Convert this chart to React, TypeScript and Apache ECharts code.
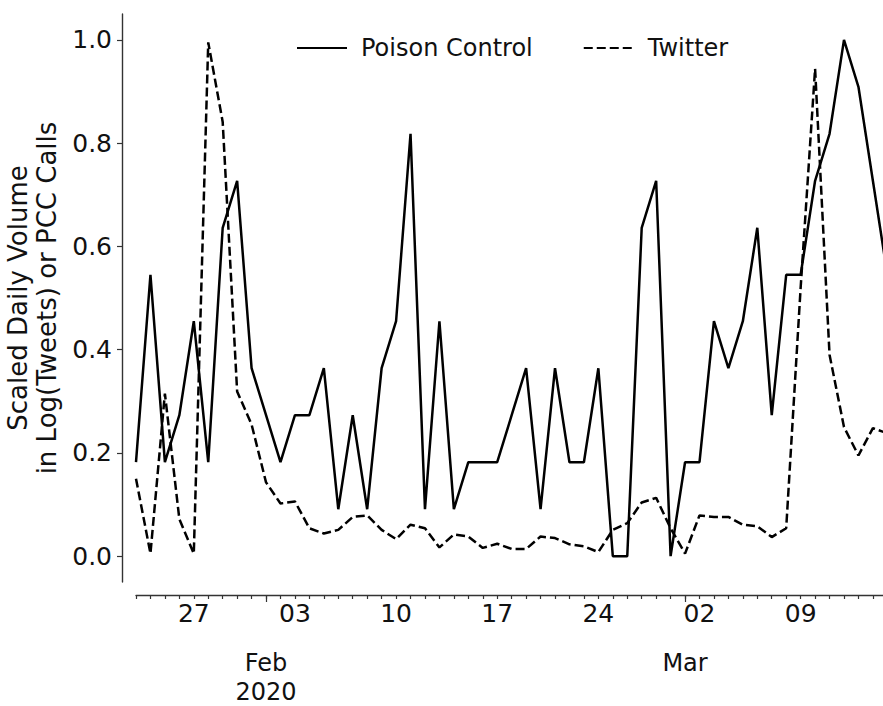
import React, { useEffect, useRef } from "react";
import * as echarts from "echarts";

const dates = [
  "2020-01-23", "2020-01-24", "2020-01-25", "2020-01-26", "2020-01-27", "2020-01-28", "2020-01-29",
  "2020-01-30", "2020-01-31", "2020-02-01", "2020-02-02", "2020-02-03", "2020-02-04", "2020-02-05",
  "2020-02-06", "2020-02-07", "2020-02-08", "2020-02-09", "2020-02-10", "2020-02-11", "2020-02-12",
  "2020-02-13", "2020-02-14", "2020-02-15", "2020-02-16", "2020-02-17", "2020-02-18", "2020-02-19",
  "2020-02-20", "2020-02-21", "2020-02-22", "2020-02-23", "2020-02-24", "2020-02-25", "2020-02-26",
  "2020-02-27", "2020-02-28", "2020-02-29", "2020-03-01", "2020-03-02", "2020-03-03", "2020-03-04",
  "2020-03-05", "2020-03-06", "2020-03-07", "2020-03-08", "2020-03-09", "2020-03-10", "2020-03-11",
  "2020-03-12", "2020-03-13", "2020-03-14", "2020-03-15",
];

const poisonControl = [
  0.182, 0.545, 0.182, 0.273, 0.455, 0.182, 0.636, 0.727, 0.364, 0.273, 0.182, 0.273, 0.273, 0.364,
  0.091, 0.273, 0.091, 0.364, 0.455, 0.818, 0.091, 0.455, 0.091, 0.182, 0.182, 0.182, 0.273, 0.364,
  0.091, 0.364, 0.182, 0.182, 0.364, 0.0, 0.0, 0.636, 0.727, 0.0, 0.182, 0.182, 0.455, 0.364,
  0.455, 0.636, 0.273, 0.545, 0.545, 0.727, 0.818, 1.0, 0.909, 0.727, 0.545,
];

const twitter = [
  0.15, 0.005, 0.315, 0.072, 0.005, 0.995, 0.841, 0.319, 0.255, 0.143, 0.102, 0.106, 0.054, 0.044,
  0.051, 0.076, 0.079, 0.051, 0.033, 0.061, 0.054, 0.017, 0.042, 0.038, 0.016, 0.024, 0.014, 0.014,
  0.038, 0.035, 0.023, 0.019, 0.008, 0.051, 0.064, 0.104, 0.113, 0.054, 0.005, 0.079, 0.076, 0.076,
  0.061, 0.058, 0.037, 0.054, 0.52, 0.944, 0.39, 0.25, 0.195, 0.248, 0.238,
];

const yTicks = [0.0, 0.2, 0.4, 0.6, 0.8, 1.0];
const weekLabels = ["2020-01-27", "2020-02-03", "2020-02-10", "2020-02-17", "2020-02-24", "2020-03-02", "2020-03-09"];
const monthLabels = ["2020-02-01", "2020-03-01"];
const monthTexts = ["Feb\n2020", "Mar"];

const FONT = "DejaVu Sans";
const DAY = 86400000;

export default function App() {
  const ref = useRef<HTMLDivElement>(null);

  useEffect(() => {
    document.body.style.margin = "0";
    if (!ref.current) return;
    const chart = echarts.init(ref.current, undefined, { renderer: "svg" });
    const ts = dates.map((d) => Date.parse(d));
    const xMin = ts[0];
    const xMax = ts[0] + 51.7 * DAY;
    const monthTs = monthLabels.map((d) => Date.parse(d));

    chart.setOption({
      animation: false,
      backgroundColor: "#ffffff",
      textStyle: { fontFamily: FONT },
      grid: { left: 136, right: 0, top: 14, bottom: 124, containLabel: false, outerBoundsMode: "none" },
      legend: {
        left: 291,
        top: 31,
        itemWidth: 50,
        itemHeight: 14,
        itemGap: 50,
        data: ["Poison Control", "Twitter"],
        itemStyle: { opacity: 0 },
        textStyle: { fontSize: 24, fontFamily: FONT, color: "#111", padding: [0, 0, 0, 9] },
      },
      xAxis: [
        {
          type: "value",
          min: xMin,
          max: xMax,
          position: "bottom",
          offset: 13,
          axisLine: { show: true, onZero: false, lineStyle: { color: "#333", width: 1.4 } },
          axisTick: { show: true, length: 4, customValues: ts, lineStyle: { color: "#333", width: 1.2 } },
          axisLabel: {
            customValues: weekLabels.map((d) => Date.parse(d)),
            formatter: (v: number) => String(new Date(v).getUTCDate()).padStart(2, "0"),
            fontSize: 25,
            fontFamily: FONT,
            color: "#111",
            margin: 6,
          },
          splitLine: { show: false },
        },
        {
          type: "value",
          min: xMin,
          max: xMax,
          position: "bottom",
          offset: 13,
          axisLine: { show: false, onZero: false },
          axisTick: { show: true, length: 7, customValues: monthTs, lineStyle: { color: "#333", width: 1.2 } },
          axisLabel: {
            customValues: monthTs,
            formatter: (v: number) => monthTexts[monthTs.indexOf(v)] ?? "",
            fontSize: 24,
            lineHeight: 29,
            fontFamily: FONT,
            color: "#111",
            margin: 53,
          },
          splitLine: { show: false },
        },
      ],
      yAxis: {
        type: "value",
        min: -0.05,
        max: 1.05,
        offset: 14,
        name: "Scaled Daily Volume\nin Log(Tweets) or PCC Calls",
        nameLocation: "middle",
        nameGap: 55,
        nameTextStyle: { fontSize: 26, lineHeight: 29, fontFamily: FONT, color: "#111" },
        axisLine: { show: true, onZero: false, lineStyle: { color: "#333", width: 1.4 } },
        axisTick: { show: true, length: 5, customValues: yTicks, lineStyle: { color: "#333", width: 1.2 } },
        axisLabel: {
          customValues: yTicks,
          formatter: (v: number) => v.toFixed(1),
          fontSize: 25,
          fontFamily: FONT,
          color: "#111",
          margin: 10,
        },
        splitLine: { show: false },
      },
      series: [
        {
          name: "Poison Control",
          type: "line",
          xAxisIndex: 0,
          symbol: "none",
          symbolSize: 0,
          data: ts.map((t, i) => [t, poisonControl[i]]),
          lineStyle: { color: "#000", width: 2.5 },
          itemStyle: { color: "#000" },
          clip: true,
        },
        {
          name: "Twitter",
          type: "line",
          xAxisIndex: 0,
          symbol: "none",
          symbolSize: 0,
          data: ts.map((t, i) => [t, twitter[i]]),
          lineStyle: { color: "#000", width: 2.5, type: [9, 4] },
          itemStyle: { color: "#000" },
          clip: true,
        },
      ],
    });
    return () => chart.dispose();
  }, []);

  return <div ref={ref} style={{ width: 883, height: 706 }} />;
}
